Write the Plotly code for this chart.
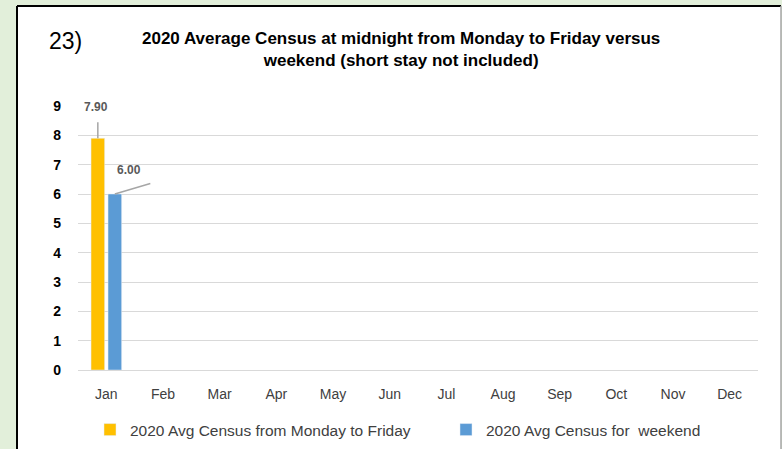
import plotly.graph_objects as go

months = ["Jan", "Feb", "Mar", "Apr", "May", "Jun", "Jul", "Aug", "Sep", "Oct", "Nov", "Dec"]
weekday = [7.90, None, None, None, None, None, None, None, None, None, None, None]
weekend = [6.00, None, None, None, None, None, None, None, None, None, None, None]
yticks = [0, 1, 2, 3, 4, 5, 6, 7, 8, 9]

W, H = 782, 449
L, R, T, B = 78, 24, 106, 79
pw, ph = W - L - R, H - T - B

def px_x(x):
    return (x - L) / pw

def px_y(y):
    return (H - B - y) / ph

font = "Liberation Sans, Arial, sans-serif"

fig = go.Figure()
fig.add_bar(x=months, y=weekday, name="2020 Avg Census from Monday to Friday",
            marker_color="#FFC000", legend="legend")
fig.add_bar(x=months, y=weekend, name="2020 Avg Census for  weekend",
            marker_color="#5B9BD5", legend="legend2")

lead = "#A6A6A6"
shift = 8.5
# leader lines
fig.add_annotation(x=months[0], y=weekday[0], xshift=-shift, text=" ", font=dict(size=1),
                   showarrow=True, arrowhead=0, arrowwidth=1.5, arrowcolor=lead, ax=0, ay=-18)
fig.add_annotation(x=months[0], y=weekend[0], xshift=shift, text=" ", font=dict(size=1),
                   showarrow=True, arrowhead=0, arrowwidth=1.5, arrowcolor=lead, ax=37, ay=-11)
# labels
fig.add_annotation(x=months[0], y=weekday[0], xshift=-shift - 2, yshift=31, text=f"<b>{weekday[0]:.2f}</b>",
                   showarrow=False, font=dict(size=12, color="#595959", family=font))
fig.add_annotation(x=months[0], y=weekend[0], xshift=shift + 14, yshift=24, text=f"<b>{weekend[0]:.2f}</b>",
                   showarrow=False, font=dict(size=12, color="#595959", family=font))

# title and number
fig.add_annotation(xref="paper", yref="paper", x=px_x(401), y=px_y(50), xanchor="center", yanchor="middle",
                   text="<b>2020 Average Census at midnight from Monday to Friday versus<br>weekend (short stay not included)</b>",
                   showarrow=False, font=dict(size=17, color="#000000", family=font), align="center")
fig.add_annotation(xref="paper", yref="paper", x=px_x(65), y=px_y(41), xanchor="center", yanchor="middle",
                   text="23)", showarrow=False, font=dict(size=23, color="#000000", family=font))

# frame
fig.add_shape(type="rect", xref="paper", yref="paper", x0=px_x(17), x1=px_x(781), y0=px_y(470), y1=px_y(6),
              fillcolor="white", line_width=0, layer="below")
fig.add_shape(type="line", xref="paper", yref="paper", x0=px_x(17), x1=px_x(17), y0=px_y(470), y1=px_y(6),
              line=dict(color="#000000", width=2), layer="below")
fig.add_shape(type="line", xref="paper", yref="paper", x0=px_x(17), x1=px_x(781), y0=px_y(6), y1=px_y(6),
              line=dict(color="#000000", width=2), layer="below")
fig.add_shape(type="line", xref="paper", yref="paper", x0=px_x(781), x1=px_x(781), y0=px_y(470), y1=px_y(6),
              line=dict(color="#A6A6A6", width=1.5), layer="below")

legfont = dict(size=15.5, color="#404040", family=font)
fig.update_layout(
    width=W, height=H,
    margin=dict(l=L, r=R, t=T, b=B, autoexpand=False),
    paper_bgcolor="#E2EFDA",
    plot_bgcolor="white",
    barmode="group", bargap=0.4, bargroupgap=0.2,
    showlegend=True,
    legend=dict(orientation="h", x=px_x(90), y=px_y(430), xanchor="left", yanchor="middle",
                font=legfont, bgcolor="rgba(0,0,0,0)"),
    legend2=dict(orientation="h", x=px_x(446), y=px_y(430), xanchor="left", yanchor="middle",
                 font=legfont, bgcolor="rgba(0,0,0,0)"),
    xaxis=dict(showgrid=False, showline=False, automargin=False,
               tickfont=dict(size=14, color="#404040", family=font),
               ticklabelstandoff=14),
    yaxis=dict(range=[0, 9], tickvals=yticks, showgrid=True, gridcolor="#D9D9D9", gridwidth=1,
               zeroline=True, zerolinecolor="#D9D9D9", zerolinewidth=1, automargin=False,
               tickfont=dict(size=14, color="#000000", family=font, weight="bold"),
               ticklabelstandoff=16),
)

fig.write_html("out.html", config={"displayModeBar": False},
               post_script="document.body.style.margin='0';document.body.style.background='#E2EFDA';")
